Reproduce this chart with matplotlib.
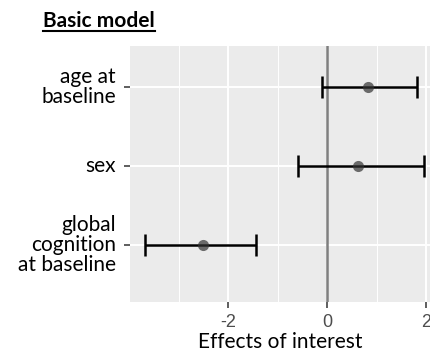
import matplotlib
matplotlib.use("Agg")
import matplotlib.pyplot as plt
from matplotlib.lines import Line2D
from matplotlib.ticker import MultipleLocator

plt.rcParams["axes.unicode_minus"] = False

# data
labels = ["age at\nbaseline", "sex", "global\ncognition\nat baseline"]
estimates = [0.83, 0.63, -2.50]
lower = [-0.10, -0.59, -3.68]
upper = [1.82, 1.96, -1.43]
ypos = [3, 2, 1]

fig = plt.figure(figsize=(4.31, 3.59), dpi=100)
W, H = 431, 359
ax = fig.add_axes([130 / W, 1 - 302 / H, (W - 130) / W, (302 - 46) / H])
ax.set_facecolor("#EBEBEB")
for s in ax.spines.values():
    s.set_visible(False)

ax.set_xlim(-3.98, 2.10)
ax.set_ylim(0.273, 3.515)

ax.xaxis.set_major_locator(MultipleLocator(2))
ax.xaxis.set_minor_locator(MultipleLocator(1))
ax.grid(which="major", color="white", linewidth=1.4)
ax.grid(which="minor", axis="x", color="white", linewidth=0.7)
ax.set_axisbelow(True)

ax.axvline(0, color="#7F7F7F", linewidth=1.8, zorder=1.5)

err = [[e - l for e, l in zip(estimates, lower)],
       [u - e for e, u in zip(estimates, upper)]]
ax.errorbar(estimates, ypos, xerr=err, fmt="none", ecolor="black",
            elinewidth=1.8, capsize=8, capthick=1.8, zorder=3)
ax.plot(estimates, ypos, "o", color="#333333", alpha=0.7, markersize=8,
        markeredgewidth=0, zorder=4)

ax.set_yticks(ypos)
ax.set_yticklabels(labels, fontsize=15, family=["Lato", "DejaVu Sans"],
                   color="black", ha="right", va="center", linespacing=1.0)
ax.tick_params(axis="y", length=4, width=1.1, color="#333333", pad=6)
ax.tick_params(axis="x", which="major", length=4.5, width=1.1, color="#333333",
               labelsize=13, labelcolor="#4D4D4D", pad=4)
ax.tick_params(axis="x", which="minor", length=0)
for t in ax.get_xticklabels():
    t.set_family(["Liberation Sans"])
ax.set_xlabel("Effects of interest", fontsize=15, family=["Lato"], labelpad=1)

title = fig.text(43 / W, 1 - 27 / H, "Basic model", fontsize=15,
                 fontweight="bold", family=["Lato"], va="baseline")

fig.canvas.draw()
bb = title.get_window_extent()
fig.add_artist(Line2D([bb.x0 / W, bb.x1 / W], [1 - 31 / H, 1 - 31 / H],
                      transform=fig.transFigure, color="black", linewidth=1.5))

fig.savefig("out.png", dpi=100)
